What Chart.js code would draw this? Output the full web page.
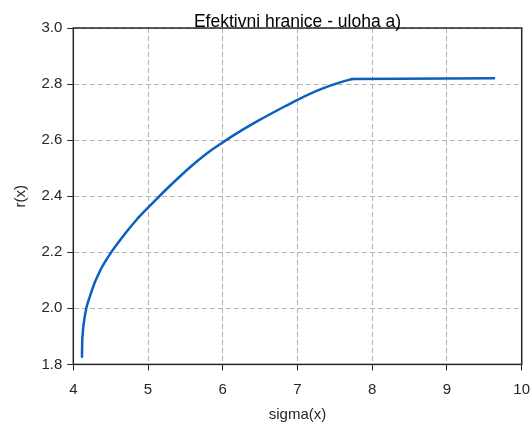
<!DOCTYPE html>
<html>
<head>
<meta charset="utf-8">
<script src="https://cdn.jsdelivr.net/npm/chart.js@4/dist/chart.umd.min.js"></script>
<style>
  html, body { margin: 0; padding: 0; background: #fff; }
  #wrap { width: 531px; height: 425px; }
</style>
</head>
<body>
<div id="wrap"><canvas id="frontier"></canvas></div>
<script>
// values
var sigmaValues = [4.116, 4.118, 4.120, 4.126, 4.134, 4.150, 4.174, 4.200, 4.230, 4.290,
  4.337, 4.375, 4.430, 4.500, 4.600, 4.700, 4.850, 5.000, 5.140, 5.270,
  5.566, 5.790, 6.000, 6.235, 6.500, 6.770, 7.000, 7.305, 7.570, 7.730, 9.630];
var rValues = [1.827, 1.860, 1.887, 1.910, 1.934, 1.965, 2.000, 2.025, 2.049, 2.094,
  2.122, 2.143, 2.168, 2.197, 2.234, 2.269, 2.317, 2.359, 2.397, 2.431,
  2.504, 2.553, 2.592, 2.632, 2.673, 2.712, 2.744, 2.781, 2.806, 2.818, 2.821];
var kinkIndex = 29; // frontier turns flat here
var xTicks = [4, 5, 6, 7, 8, 9, 10];
var yTicks = [1.8, 2.0, 2.2, 2.4, 2.6, 2.8, 3.0];
var titleText = 'Efektivni hranice - uloha a)';

var points = sigmaValues.map(function(s, i) { return { x: s, y: rValues[i] }; });

var axisColor = '#262626';
var lineColor = '#0b5fbf';
var font = { family: '"Liberation Sans", Arial, sans-serif', size: 15 };

// box round the plot + title sitting on the top edge (matlab style)
var boxPlugin = {
  id: 'box',
  afterDraw: function(chart) {
    var a = chart.chartArea, ctx = chart.ctx;
    ctx.save();
    ctx.strokeStyle = axisColor;
    ctx.lineWidth = 1.5;
    ctx.strokeRect(a.left, a.top, a.right - a.left, a.bottom - a.top);
    ctx.fillStyle = '#000';
    ctx.font = '17.5px "Liberation Sans", Arial, sans-serif';
    ctx.textAlign = 'center';
    ctx.textBaseline = 'alphabetic';
    ctx.fillText(titleText, (a.left + a.right) / 2, a.top - 1);
    ctx.restore();
  }
};

var ctx = document.getElementById('frontier').getContext('2d');
var chart = new Chart(ctx, {
  type: 'scatter',
  data: {
    datasets: [{
      // curved part, smoothed
      data: points.slice(0, kinkIndex + 1),
      showLine: true,
      borderColor: lineColor,
      borderWidth: 2.5,
      borderCapStyle: 'round',
      pointRadius: 0,
      cubicInterpolationMode: 'monotone'
    }, {
      // flat part after the kink
      data: points.slice(kinkIndex),
      showLine: true,
      borderColor: lineColor,
      borderWidth: 2.5,
      borderCapStyle: 'round',
      pointRadius: 0,
      tension: 0
    }]
  },
  options: {
    responsive: true,
    maintainAspectRatio: false,
    animation: false,
    layout: { padding: { top: 28, right: 9.3, left: 0, bottom: 0 } },
    plugins: { legend: { display: false }, tooltip: { enabled: false } },
    scales: {
      x: {
        type: 'linear', min: 4, max: 10,
        afterBuildTicks: function(s) { s.ticks = xTicks.map(function(v) { return { value: v }; }); },
        afterFit: function(s) { s.height = 60.6; s.paddingLeft = 0; s.paddingRight = 0; },
        ticks: { color: axisColor, font: font, padding: 10 },
        grid: { color: '#b3b3b3', tickColor: axisColor, tickLength: 6, tickWidth: 1 },
        border: { display: true, color: axisColor, dash: [5, 3] },
        title: { display: true, text: 'sigma(x)', color: axisColor, font: font, padding: { top: 0, bottom: 1 } }
      },
      y: {
        type: 'linear', min: 1.8, max: 3.0,
        afterBuildTicks: function(s) { s.ticks = yTicks.map(function(v) { return { value: v }; }); },
        afterFit: function(s) { s.width = 73.3; s.paddingTop = 0; s.paddingBottom = 0; },
        ticks: { color: axisColor, font: font, padding: 5, callback: function(v) { return v.toFixed(1); } },
        grid: { color: '#b3b3b3', tickColor: axisColor, tickLength: 6, tickWidth: 1 },
        border: { display: true, color: axisColor, dash: [5, 3] },
        title: { display: true, text: 'r(x)', color: axisColor, font: font, padding: { top: 12, bottom: 0 } }
      }
    }
  },
  plugins: [boxPlugin]
});
</script>
</body>
</html>
